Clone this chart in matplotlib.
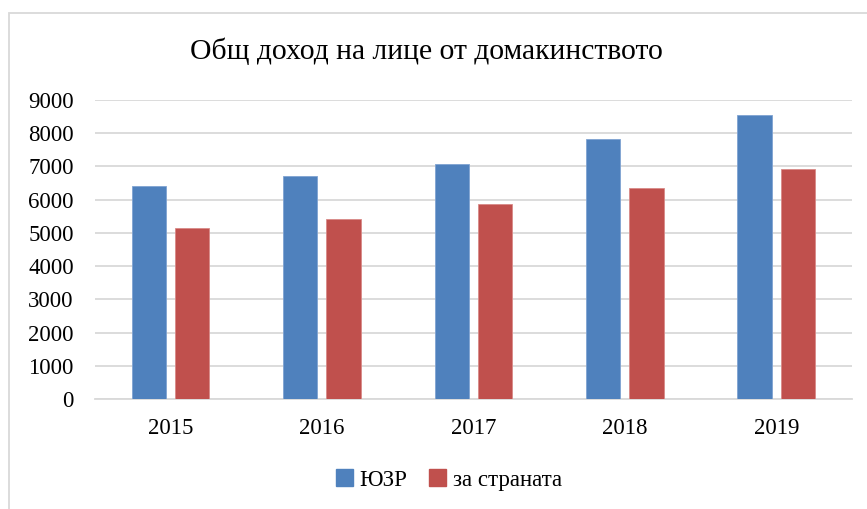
import matplotlib
matplotlib.use("Agg")
import matplotlib.pyplot as plt
import numpy as np
from matplotlib.patches import Rectangle, Patch

plt.rcParams['font.family'] = ['Liberation Serif', 'DejaVu Serif']

years = ['2015', '2016', '2017', '2018', '2019']
yuzr = [6420, 6720, 7065, 7835, 8540]
country = [5150, 5410, 5860, 6360, 6910]
series_names = ['ЮЗР', 'за страната']
colors = ['#4F81BD', '#C0504D']
title = 'Общ доход на лице от домакинството'

W, H = 867, 509
fig = plt.figure(figsize=(W/100, H/100), dpi=100)
ax = fig.add_axes([94.7/W, 1-399/H, (852-94.7)/W, (399-100)/H])

x = np.arange(len(years))
bw = 0.226
ax.bar(x - 0.143, yuzr, bw, color=colors[0], edgecolor='#7fa3d2', linewidth=0.6, zorder=3)
ax.bar(x + 0.143, country, bw, color=colors[1], edgecolor='#d98a88', linewidth=0.6, zorder=3)

ax.set_xlim(-0.5, len(years) - 0.5)
ax.set_ylim(0, 9000)
ax.set_yticks(np.arange(0, 9001, 1000))
ax.set_xticks(x)
ax.set_xticklabels(years)
ax.grid(axis='y', color='#d9d9d9', linewidth=1.3, zorder=0)
for s in ['top', 'right', 'left']:
    ax.spines[s].set_visible(False)
ax.spines['bottom'].set_color('#d9d9d9')
ax.spines['bottom'].set_linewidth(1.3)
ax.tick_params(axis='both', length=0, labelsize=16.5, colors='black')
ax.tick_params(axis='y', pad=15)
ax.tick_params(axis='x', pad=14)

fig.text(426/W, 1-51/H, title, ha='center', va='center', fontsize=21.3)

handles = [Patch(color=colors[0]), Patch(color=colors[1])]
fig.legend(handles, series_names, loc='center', bbox_to_anchor=(449/W, 1-480/H),
           ncol=2, frameon=False, fontsize=16.5, handlelength=0.75, handleheight=0.75,
           handletextpad=0.3, columnspacing=0.95)

fig.patches.append(Rectangle((8.5/W, -0.1), 1.2, 1.1 - 13.5/H, transform=fig.transFigure,
                             fill=False, edgecolor='#d9d9d9', linewidth=1.3))

fig.savefig('out.png', dpi=100)
